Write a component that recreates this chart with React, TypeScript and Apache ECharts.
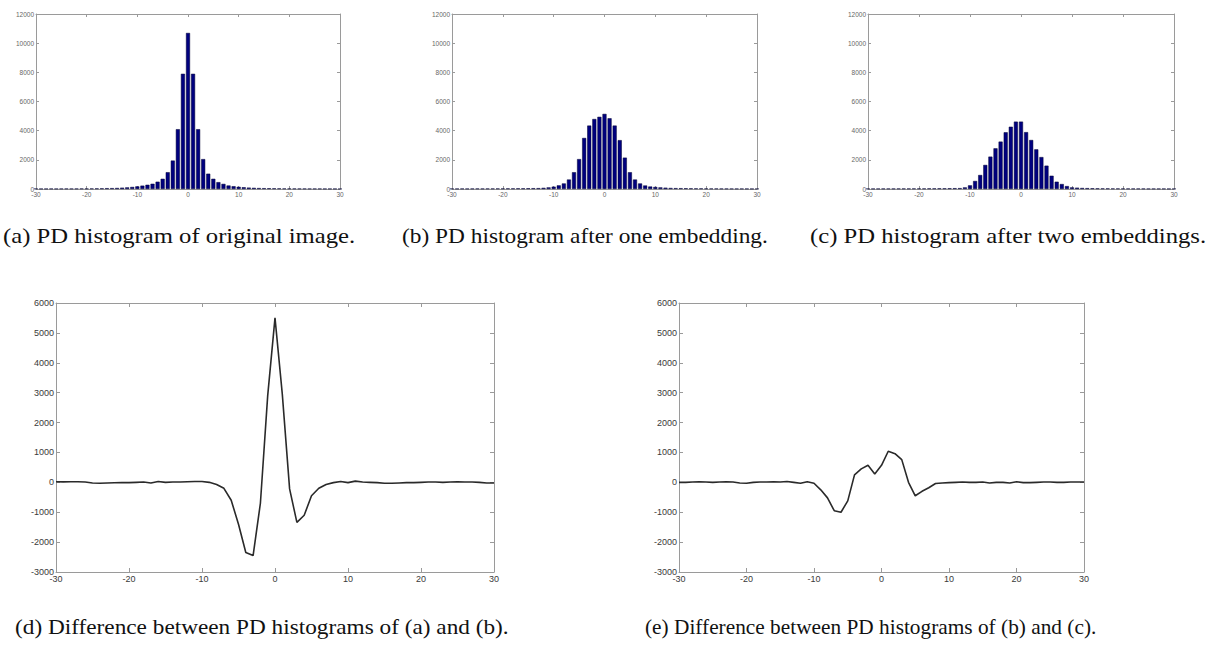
import React, { useEffect, useRef } from "react";
import * as echarts from "echarts";

// Pixel-difference bins -30 .. 30
const bins: number[] = [
  -30, -29, -28, -27, -26, -25, -24, -23, -22, -21, -20, -19, -18, -17, -16, -15, -14, -13, -12, -11,
  -10, -9, -8, -7, -6, -5, -4, -3, -2, -1, 0, 1, 2, 3, 4, 5, 6, 7, 8, 9,
  10, 11, 12, 13, 14, 15, 16, 17, 18, 19, 20, 21, 22, 23, 24, 25, 26, 27, 28, 29, 30,
];

// (a) PD histogram of original image
const histOriginal: number[] = [
  20, 15, 15, 20, 15, 20, 25, 20, 25, 30, 30, 35, 40, 45, 55, 60, 70, 90, 110, 140,
  180, 230, 290, 360, 500, 700, 1150, 1950, 4100, 7900, 10700, 7900, 4100, 2050, 1050, 700, 470, 350, 240, 190,
  150, 120, 95, 80, 65, 55, 50, 45, 40, 35, 30, 30, 25, 25, 20, 20, 20, 15, 15, 15, 10,
];

// (b) PD histogram after one embedding
const histOne: number[] = [
  20, 20, 25, 20, 25, 30, 25, 30, 30, 35, 35, 40, 40, 45, 45, 50, 55, 60, 80, 110,
  160, 250, 380, 650, 1150, 2050, 3500, 4350, 4800, 4950, 5150, 4850, 4350, 3350, 2150, 1150, 650, 380, 240, 170,
  140, 110, 90, 70, 60, 55, 50, 45, 40, 40, 35, 30, 30, 25, 25, 20, 20, 20, 20, 15, 15,
];

// (c) PD histogram after two embeddings
const histTwo: number[] = [
  20, 20, 20, 25, 25, 25, 30, 30, 30, 35, 35, 35, 40, 40, 45, 45, 50, 55, 60, 110,
  250, 550, 960, 1650, 2220, 2790, 3250, 3890, 4270, 4620, 4620, 3900, 3360, 2720, 2190, 1600, 910, 500, 340, 200,
  110, 90, 70, 60, 50, 45, 40, 40, 35, 35, 30, 30, 25, 25, 25, 20, 20, 20, 20, 15, 15,
];

// (d) Difference between PD histograms of (a) and (b)
const diffAB: number[] = [
  20, 15, 20, 20, 10, -20, -30, -20, -15, -10, -10, 0, 10, -20, 30, 0, 10, 10, 20, 30,
  30, 0, -70, -200, -600, -1400, -2350, -2450, -700, 2900, 5500, 2950, -220, -1340, -1100, -450, -200, -70, -10, 30,
  -10, 40, 10, 0, -10, -30, -30, -20, -10, -10, 0, 10, 10, 0, 10, 20, 10, 10, 0, -20, -20,
];

// (e) Difference between PD histograms of (b) and (c)
const diffBC: number[] = [
  0, 0, 10, 20, 10, 0, 10, 20, 10, -20, -30, 0, 10, 10, 20, 10, 30, 0, -30, 20,
  -30, -250, -520, -950, -1000, -620, 250, 450, 570, 280, 570, 1040, 960, 760, 0, -450, -300, -180, -40, -20,
  -10, 0, 10, 0, 0, 10, -20, 0, 0, -20, 20, -10, -10, 0, 10, 10, 0, 0, 10, 10, 10,
];

const xTicks: number[] = [-30, -20, -10, 0, 10, 20, 30];
const histYTicks: number[] = [0, 2000, 4000, 6000, 8000, 10000, 12000];
const diffYTicks: number[] = [-3000, -2000, -1000, 0, 1000, 2000, 3000, 4000, 5000, 6000];

const captions: string[] = [
  "(a) PD histogram of original image.",
  "(b) PD histogram after one embedding.",
  "(c) PD histogram after two embeddings.",
  "(d) Difference between PD histograms of (a) and (b).",
  "(e) Difference between PD histograms of (b) and (c).",
];

const grids = [
  { left: 36, top: 14, width: 304, height: 175 },
  { left: 452, top: 14, width: 305, height: 175 },
  { left: 868, top: 14, width: 306, height: 175 },
  { left: 56, top: 303, width: 438, height: 269 },
  { left: 679, top: 303, width: 405, height: 269 },
];

const captionPos = [
  { x: 3, y: 236, sx: 1.175 },
  { x: 402, y: 236, sx: 1.113 },
  { x: 810, y: 236, sx: 1.176 },
  { x: 15, y: 627, sx: 1.108 },
  { x: 645, y: 627, sx: 1.016 },
];

export default function App() {
  const ref = useRef<HTMLDivElement>(null);

  useEffect(() => {
    if (!ref.current) return;
    const chart = echarts.init(ref.current, undefined, { renderer: "svg" });

    const frameColor = "#9a9a9a";
    const xAxis: any[] = [];
    const yAxis: any[] = [];
    const series: any[] = [];
    const plain = (v: number) => String(v);

    grids.forEach((g, i) => {
      const isHist = i < 3;
      const fs = isHist ? 6.5 : 9;
      const tickLen = isHist ? 3 : 4;
      const yTicks = isHist ? histYTicks : diffYTicks;
      const yMin = yTicks[0];
      const yMax = yTicks[yTicks.length - 1];
      const labelColor = isHist ? "#666" : "#3a3a3a";
      const common = {
        gridIndex: i,
        type: "value",
        axisLine: { show: true, onZero: false, lineStyle: { color: frameColor, width: 1 } },
        axisTick: { show: true, inside: true, length: tickLen, lineStyle: { color: frameColor } },
        splitLine: { show: false },
      };
      const xCommon = { ...common, min: xTicks[0], max: xTicks[xTicks.length - 1], interval: xTicks[1] - xTicks[0] };
      const yCommon = { ...common, min: yMin, max: yMax, interval: yTicks[1] - yTicks[0] };
      xAxis.push({
        ...xCommon,
        position: "bottom",
        axisLabel: { show: true, fontSize: fs, color: labelColor, margin: 2, fontFamily: "Liberation Sans", formatter: plain },
      });
      xAxis.push({ ...xCommon, position: "top", axisLabel: { show: false } });
      yAxis.push({
        ...yCommon,
        position: "left",
        axisLabel: { show: true, fontSize: fs, color: labelColor, margin: 2, fontFamily: "Liberation Sans", formatter: plain },
      });
      yAxis.push({ ...yCommon, position: "right", axisLabel: { show: false } });
    });

    const histData = [histOriginal, histOne, histTwo];
    histData.forEach((vals, i) => {
      series.push({
        type: "bar",
        xAxisIndex: i * 2,
        yAxisIndex: i * 2,
        data: bins.map((b, k) => [b, vals[k]]),
        barWidth: 4,
        itemStyle: { color: "#00007f", borderColor: "#000033", borderWidth: 0.5 },
        silent: true,
      });
    });

    const diffData = [diffAB, diffBC];
    diffData.forEach((vals, j) => {
      const i = j + 3;
      series.push({
        type: "line",
        xAxisIndex: i * 2,
        yAxisIndex: i * 2,
        data: bins.map((b, k) => [b, vals[k]]),
        showSymbol: false,
        lineStyle: { color: "#2a2a2a", width: 1.6 },
        silent: true,
      });
    });

    chart.setOption({
      animation: false,
      backgroundColor: "#ffffff",
      grid: grids.map((g) => ({ ...g, containLabel: false })),
      xAxis,
      yAxis,
      series,
      graphic: captions.map((t, i) => ({
        type: "text",
        x: captionPos[i].x,
        y: captionPos[i].y,
        scaleX: captionPos[i].sx,
        style: {
          text: t,
          font: '21px "Liberation Serif", serif',
          fill: "#111",
          textVerticalAlign: "middle",
          textAlign: "left",
        },
      })),
    });

    return () => chart.dispose();
  }, []);

  return (
    <div
      ref={ref}
      style={{ position: "absolute", left: 0, top: 0, width: 1226, height: 647 }}
    />
  );
}
